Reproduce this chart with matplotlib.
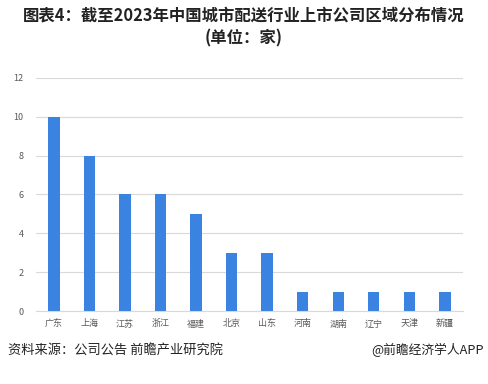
import matplotlib.pyplot as plt

plt.rcParams['font.family'] = ['Noto Sans CJK SC', 'DejaVu Sans']

# regions and number of listed companies
regions = ["广东", "上海", "江苏", "浙江", "福建", "北京", "山东", "河南", "湖南", "辽宁", "天津", "新疆"]
companies = [10, 8, 6, 6, 5, 3, 3, 1, 1, 1, 1, 1]
y_ticks = [0, 2, 4, 6, 8, 10, 12]

fig = plt.figure(figsize=(4.88, 3.84), dpi=100)
ax = fig.add_axes([0.074, 0.19, 0.874, 0.607])

ax.bar(range(len(regions)), companies, width=0.32, color="#3a83e0", zorder=3)

ax.set_xlim(-0.5, len(regions) - 0.5)
ax.set_ylim(0, 12)
ax.set_yticks(y_ticks)
ax.set_xticks(range(len(regions)))
ax.set_xticklabels(regions)
ax.tick_params(axis='both', length=0, labelsize=6.5, colors="#595959")
ax.tick_params(axis='x', pad=6)
ax.tick_params(axis='y', pad=9)
ax.grid(axis='y', color="#d9d9d9", linewidth=0.8, zorder=0)
for side in ["top", "right", "left"]:
    ax.spines[side].set_visible(False)
ax.spines["bottom"].set_color("#d9d9d9")
ax.spines["bottom"].set_linewidth(0.8)

# title
fig.text(0.5, 0.96, "图表4：截至2023年中国城市配送行业上市公司区域分布情况", ha='center', va='center',
         fontsize=11.8, fontweight='bold', color="#222222")
fig.text(0.5, 0.9, "(单位：家)", ha='center', va='center',
         fontsize=11.8, fontweight='bold', color="#222222")

# footer
fig.text(0.016, 0.088, "资料来源：公司公告 前瞻产业研究院", ha='left', va='center', fontsize=9.5, color="#222222")
fig.text(0.992, 0.088, "@前瞻经济学人APP", ha='right', va='center', fontsize=9.2, color="#222222")

fig.savefig("out.png", dpi=100)
